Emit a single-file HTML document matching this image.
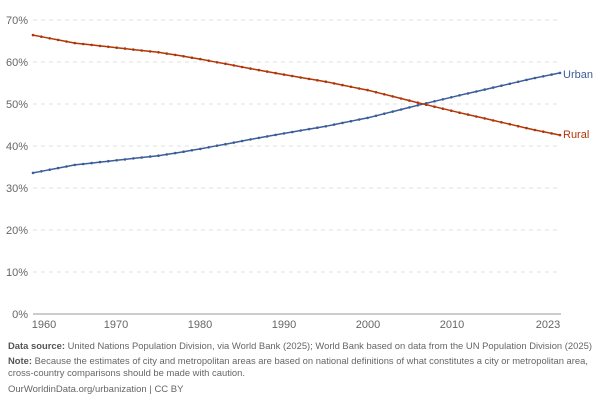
<!DOCTYPE html>
<html><head><meta charset="utf-8"><style>
body{margin:0;background:#fff;font-family:"Liberation Sans",sans-serif}
</style></head><body>
<svg id="s" width="600" height="400" xmlns="http://www.w3.org/2000/svg" font-family="Liberation Sans, sans-serif">
<g font-size="11" fill="#666" text-anchor="end">
<text x="28" y="24">70%</text><text x="28" y="66">60%</text><text x="28" y="108">50%</text>
<text x="28" y="150">40%</text><text x="28" y="192">30%</text><text x="28" y="234">20%</text>
<text x="28" y="276">10%</text><text x="28" y="318">0%</text>
</g>
<g stroke="#e2e2e2" stroke-dasharray="4,4">
<line x1="33" x2="560" y1="20" y2="20"/><line x1="33" x2="560" y1="62" y2="62"/>
<line x1="33" x2="560" y1="104" y2="104"/><line x1="33" x2="560" y1="146" y2="146"/>
<line x1="33" x2="560" y1="188" y2="188"/><line x1="33" x2="560" y1="230" y2="230"/>
<line x1="33" x2="560" y1="272" y2="272"/>
</g>
<line x1="33" x2="561" y1="314" y2="314" stroke="#999"/>
<g font-size="11" fill="#666" text-anchor="middle">
<text x="44" y="328">1960</text><text x="116" y="328">1970</text><text x="200" y="328">1980</text>
<text x="284" y="328">1990</text><text x="368" y="328">2000</text><text x="452" y="328">2010</text>
<text x="548" y="328">2023</text>
</g>
<g id="lines"></g>
<text x="563" y="78" font-size="11" fill="#3c5d9a">Urban</text>
<text x="563" y="138" font-size="11" fill="#b13507">Rural</text>
<g font-size="9.5" fill="#666">
<text x="8" y="349" textLength="584" lengthAdjust="spacingAndGlyphs"><tspan font-weight="bold" fill="#555">Data source:</tspan> United Nations Population Division, via World Bank (2025); World Bank based on data from the UN Population Division (2025)</text>
<text x="8" y="364" textLength="580" lengthAdjust="spacingAndGlyphs"><tspan font-weight="bold" fill="#555">Note:</tspan> Because the estimates of city and metropolitan areas are based on national definitions of what constitutes a city or metropolitan area,</text>
<text x="8" y="376" textLength="237" lengthAdjust="spacingAndGlyphs">cross-country comparisons should be made with caution.</text>
<text x="8" y="392">OurWorldinData.org/urbanization | CC BY</text>
</g>
</svg>
<script>
var k=[[1960,33.6],[1965,35.5],[1970,36.6],[1975,37.7],[1977,38.3],[1980,39.3],[1985,41.2],[1990,43.0],[1995,44.7],[2000,46.7],[2005,49.2],[2010,51.6],[2015,53.9],[2020,56.2],[2023,57.4]];
function u(y){for(var i=0;i<k.length-1;i++){if(y>=k[i][0]&&y<=k[i+1][0]){var t=(y-k[i][0])/(k[i+1][0]-k[i][0]);return k[i][1]+t*(k[i+1][1]-k[i][1]);}}return 57.4;}
var X=function(y){return 33+(y-1960)*(527/63)},Y=function(v){return 314-v*4.2};
var g=document.getElementById('lines'),h="";
[["#3c5d9a",0],["#b13507",1]].forEach(function(c){var p=[];for(var y=1960;y<=2023;y++){var v=u(y);if(c[1])v=100-v;p.push(X(y).toFixed(1)+","+Y(v).toFixed(1));}
h+='<polyline fill="none" stroke="'+c[0]+'" stroke-width="1.5" points="'+p.join(" ")+'"/>';
p.forEach(function(q){var a=q.split(",");h+='<circle cx="'+a[0]+'" cy="'+a[1]+'" r="1.3" fill="'+c[0]+'"/>';});});
g.innerHTML=h;
</script>
</body></html>
